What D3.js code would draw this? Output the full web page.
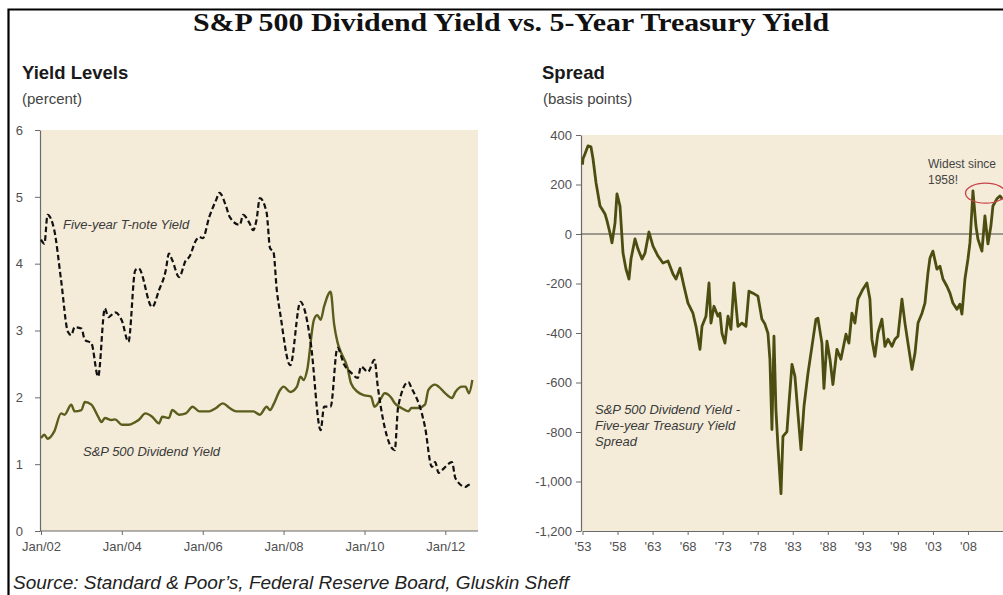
<!DOCTYPE html>
<html lang="en">
<head>
<meta charset="UTF-8">
<title>S&amp;P 500 Dividend Yield vs. 5-Year Treasury Yield</title>
<style>
    body {
        margin: 0;
        padding: 0;
        background: #ffffff;
        font-family: "Liberation Sans", Arial, sans-serif;
    }
    .tick-label {
        fill: #505050;
        font-size: 13px;
    }
    .panel-title {
        font-weight: bold;
        font-size: 18.5px;
        fill: #1a1a1a;
    }
    .panel-sub {
        font-size: 15px;
        fill: #444;
    }
    .note {
        font-style: italic;
        font-size: 13px;
        fill: #3a3a3a;
    }
</style>
</head>
<body>
<div id="chart"></div>

<script src="https://d3js.org/d3.v7.min.js"></script>
<script>
// ---- left panel: yield levels (percent) ----
const tnoteDates = ["2002-01","2002-02","2002-03","2002-05","2002-07","2002-09","2002-10","2002-11",
    "2003-01","2003-02","2003-04","2003-06","2003-08","2003-09","2003-11",
    "2004-01","2004-03","2004-05","2004-06","2004-10","2004-12",
    "2005-02","2005-03","2005-04","2005-06","2005-08","2005-09","2005-11","2005-12",
    "2006-01","2006-03","2006-05","2006-06","2006-08","2006-09","2006-12",
    "2007-01","2007-03","2007-04","2007-05","2007-06","2007-08","2007-09","2007-10","2007-11","2007-12",
    "2008-03","2008-06","2008-07","2008-09","2008-12",
    "2009-01","2009-03","2009-05","2009-07","2009-09","2009-11","2009-12",
    "2010-02","2010-04","2010-05","2010-07","2010-10","2010-11",
    "2011-02","2011-03","2011-06","2011-07","2011-09","2011-10","2011-11","2011-12",
    "2012-03","2012-04","2012-07","2012-08","2012-09"];
const tnoteYield = [4.36,4.30,4.73,4.50,3.76,2.98,2.93,3.05,
    3.03,2.86,2.81,2.31,3.33,3.20,3.27,
    3.15,2.83,3.90,3.93,3.35,3.60,
    3.90,4.15,4.05,3.80,4.05,4.10,4.35,4.40,
    4.38,4.70,4.95,5.06,4.85,4.70,4.58,
    4.73,4.60,4.50,4.65,4.98,4.76,4.23,4.18,3.60,3.26,
    2.48,3.43,3.35,2.83,1.51,
    1.86,1.86,2.74,2.49,2.37,2.29,2.46,
    2.38,2.56,2.16,1.56,1.21,1.86,
    2.23,2.14,1.77,1.56,0.96,1.03,0.87,0.91,
    1.03,0.79,0.66,0.69,0.69];

const divDates = ["2002-01","2002-02","2002-03","2002-05","2002-07","2002-08","2002-10","2002-11",
    "2003-01","2003-02","2003-04","2003-06","2003-07","2003-08","2003-10","2003-11",
    "2004-01","2004-03","2004-05","2004-06","2004-08","2004-10","2004-12",
    "2005-01","2005-03","2005-04","2005-06","2005-08","2005-10","2005-12",
    "2006-03","2006-05","2006-07","2006-09","2006-11",
    "2007-02","2007-04","2007-06","2007-08","2007-09","2007-10","2007-12",
    "2008-01","2008-03","2008-05","2008-06","2008-07","2008-08","2008-10","2008-11","2008-12",
    "2009-01","2009-03","2009-04","2009-05","2009-06","2009-08","2009-09","2009-11",
    "2010-01","2010-03","2010-04","2010-06","2010-07","2010-09","2010-10","2010-12",
    "2011-02","2011-03","2011-05","2011-07","2011-08","2011-10","2011-11",
    "2012-01","2012-03","2012-04","2012-06","2012-07","2012-08","2012-09"];
const divYield = [1.39,1.44,1.38,1.49,1.76,1.74,1.89,1.79,
    1.81,1.93,1.89,1.71,1.63,1.69,1.66,1.67,
    1.59,1.59,1.63,1.66,1.76,1.71,1.61,
    1.71,1.69,1.81,1.74,1.76,1.86,1.79,
    1.79,1.84,1.91,1.84,1.79,
    1.79,1.79,1.74,1.86,1.81,1.89,2.11,
    2.16,2.08,2.16,2.31,2.26,2.41,3.16,3.23,3.16,
    3.36,3.58,3.10,2.83,2.68,2.44,2.21,2.08,
    2.03,2.01,1.86,1.99,2.06,1.99,1.91,1.84,
    1.79,1.84,1.84,1.89,2.11,2.19,2.16,
    2.06,1.99,2.08,2.16,2.16,2.06,2.26];

const leftXTicks = ["2002-01","2004-01","2006-01","2008-01","2010-01","2012-01"];
const leftYTicks = [0, 1, 2, 3, 4, 5, 6];

// ---- right panel: spread (basis points) ----
const spreadYears = [1953.0,1953.07,1953.36,1953.78,1954.21,1954.50,1954.93,1955.50,1955.78,1956.21,1956.50,1956.92,
    1957.21,1957.64,1957.92,1958.35,1958.78,1959.21,1959.63,1959.92,1960.49,1960.92,1961.49,1961.92,
    1962.48,1963.06,1963.77,1964.48,1965.20,1965.91,1966.34,1966.91,1967.48,1968.05,1968.76,1969.19,
    1969.76,1970.05,1970.62,1971.05,1971.33,1971.76,1972.33,1972.61,1972.90,1973.33,1973.76,1974.18,
    1974.61,1975.18,1975.75,1976.32,1976.75,1977.32,1978.03,1978.60,1979.03,1979.46,1979.74,1980.03,
    1980.32,1980.60,1980.89,1981.32,1981.60,1982.17,1982.46,1982.89,1983.31,1983.74,1984.17,1984.60,
    1985.17,1985.74,1986.31,1986.59,1987.16,1987.45,1987.88,1988.31,1988.73,1989.30,1989.87,1990.59,
    1991.01,1991.44,1991.87,1992.30,1993.01,1993.58,1994.01,1994.29,1994.72,1995.15,1995.72,1996.15,
    1996.58,1997.15,1997.58,1998.01,1998.58,1999.01,1999.44,2000.01,2000.44,2000.87,2001.44,2001.86,
    2002.29,2002.58,2003.00,2003.57,2004.00,2004.43,2005.00,2005.43,2005.85,2006.42,2006.85,2007.14,
    2007.57,2008.00,2008.28,2008.57,2008.71,2009.14,2009.42,2009.99,2010.42,2010.85,2011.27,2011.56,
    2012.13,2012.56,2012.95];
const spreadBp = [280,304,324,356,352,304,207,113,101,81,53,4,
    -36,45,162,113,-77,-142,-182,-101,-20,-61,-101,-77,
    8,-49,-89,-117,-109,-162,-182,-138,-211,-279,-320,-373,
    -466,-373,-332,-198,-360,-292,-332,-320,-401,-441,-332,-385,
    -198,-373,-360,-373,-231,-239,-251,-344,-364,-401,-506,-790,
    -413,-709,-859,-1049,-818,-798,-684,-527,-575,-725,-871,-697,
    -563,-454,-344,-340,-441,-624,-433,-506,-608,-466,-506,-405,
    -441,-320,-360,-263,-223,-198,-263,-425,-494,-401,-344,-454,
    -425,-454,-425,-413,-263,-360,-441,-547,-482,-360,-320,-279,
    -158,-97,-69,-142,-130,-182,-211,-239,-279,-304,-284,-324,
    -182,-101,-36,101,174,32,-20,-69,73,-40,32,113,
    142,154,140];

const rightXTicks = [1953,1958,1963,1968,1973,1978,1983,1988,1993,1998,2003,2008];
const rightYTicks = [-1200,-1000,-800,-600,-400,-200,0,200,400];

const W = 1003, H = 595;
const bgColor = "#f4ecd9";
const olive = "#5a5d1c";
const oliveDark = "#4b4e10";

const svg = d3.select("#chart").append("svg")
    .attr("width", W)
    .attr("height", H);

svg.append("rect").attr("width", W).attr("height", H).attr("fill", "#fff");

// frame (only top and left edges are visible in the crop)
svg.append("path")
    .attr("d", `M8.5,${H} L8.5,9.5 L${W},9.5`)
    .attr("fill", "none")
    .attr("stroke", "#000")
    .attr("stroke-width", 2.2);

// main title
svg.append("text")
    .attr("x", 193)
    .attr("y", 31)
    .attr("textLength", 636)
    .attr("lengthAdjust", "spacingAndGlyphs")
    .style("font-family", "'Liberation Serif', 'Times New Roman', serif")
    .style("font-weight", "bold")
    .style("font-size", "26px")
    .attr("fill", "#111")
    .text("S&P 500 Dividend Yield vs. 5-Year Treasury Yield");

// ===== left panel =====
const parseMonth = d3.timeParse("%Y-%m");
const xL = d3.scaleTime()
    .domain([parseMonth("2002-01"), new Date(2012, 9, 22)])
    .range([41, 478]);
const yL = d3.scaleLinear().domain([0, 6]).range([531, 130]);

svg.append("rect")
    .attr("x", 41).attr("y", yL(6))
    .attr("width", 478 - 41).attr("height", yL(0) - yL(6))
    .attr("fill", bgColor);

const gLx = svg.append("g").attr("transform", `translate(0,${yL(0)})`)
    .call(d3.axisBottom(xL)
        .tickValues(leftXTicks.map(parseMonth))
        .tickFormat(d3.timeFormat("Jan/%y"))
        .tickSize(4).tickSizeOuter(0));
const gLy = svg.append("g").attr("transform", `translate(40,0)`)
    .call(d3.axisLeft(yL).tickValues(leftYTicks).tickFormat(d3.format("d"))
        .tickSize(5).tickSizeOuter(0).tickPadding(12));

[gLx, gLy].forEach(g => {
    g.select(".domain").attr("stroke", "#6a6a6a").attr("stroke-width", 1.2);
    g.selectAll(".tick line").attr("stroke", "#6a6a6a");
    g.selectAll(".tick text").attr("class", "tick-label").attr("fill", null)
        .style("font-family", "'Liberation Sans', Arial, sans-serif");
});
gLx.selectAll(".tick text").attr("dy", "1.0em");
gLx.select(".domain").attr("d", `M40,0H478`);

const lineL = d3.line()
    .x(d => xL(d[0]))
    .y(d => yL(d[1]))
    .curve(d3.curveMonotoneX);

svg.append("path")
    .datum(divDates.map((d, i) => [parseMonth(d), divYield[i]]))
    .attr("d", lineL)
    .attr("fill", "none")
    .attr("stroke", olive)
    .attr("stroke-width", 2.4);

svg.append("path")
    .datum(tnoteDates.map((d, i) => [parseMonth(d), tnoteYield[i]]))
    .attr("d", lineL)
    .attr("fill", "none")
    .attr("stroke", "#111")
    .attr("stroke-width", 2.2)
    .attr("stroke-dasharray", "5.5,3");

svg.append("text").attr("class", "note")
    .attr("x", 63).attr("y", 229)
    .text("Five-year T-note Yield");
svg.append("text").attr("class", "note")
    .attr("x", 83).attr("y", 456)
    .text("S&P 500 Dividend Yield");

svg.append("text").attr("class", "panel-title").attr("x", 22).attr("y", 79).text("Yield Levels");
svg.append("text").attr("class", "panel-sub").attr("x", 22).attr("y", 104).text("(percent)");

// ===== right panel =====
const xR = d3.scaleLinear().domain([1953, 2013.07]).range([582.5, 1003.5]);
const yR = d3.scaleLinear().domain([-1200, 400]).range([531, 135]);

svg.append("rect")
    .attr("x", 582).attr("y", yR(400))
    .attr("width", W - 582).attr("height", yR(-1200) - yR(400))
    .attr("fill", bgColor);

const gRx = svg.append("g").attr("transform", `translate(0,${yR(-1200)})`)
    .call(d3.axisBottom(xR)
        .tickValues(rightXTicks)
        .tickFormat(d => "'" + String(d).slice(2))
        .tickSize(4).tickSizeOuter(0));
const gRy = svg.append("g").attr("transform", `translate(581,0)`)
    .call(d3.axisLeft(yR).tickValues(rightYTicks).tickFormat(d3.format(",d"))
        .tickSize(5).tickSizeOuter(0).tickPadding(4));

[gRx, gRy].forEach(g => {
    g.select(".domain").attr("stroke", "#6a6a6a").attr("stroke-width", 1.2);
    g.selectAll(".tick line").attr("stroke", "#6a6a6a");
    g.selectAll(".tick text").attr("class", "tick-label").attr("fill", null)
        .style("font-family", "'Liberation Sans', Arial, sans-serif");
});
gRx.selectAll(".tick text").attr("dy", "1.0em");
gRy.selectAll(".tick text").text(d => d3.format(",d")(d).replace("−", "-"));

// zero line
svg.append("line")
    .attr("x1", 581).attr("x2", W)
    .attr("y1", yR(0)).attr("y2", yR(0))
    .attr("stroke", "#444").attr("stroke-width", 1.2);

const lineR = d3.line()
    .x((d, i) => xR(spreadYears[i]))
    .y(d => yR(d));

svg.append("path")
    .datum(spreadBp)
    .attr("d", lineR)
    .attr("fill", "none")
    .attr("stroke", oliveDark)
    .attr("stroke-width", 2.8)
    .attr("stroke-linejoin", "round");

svg.append("text").attr("class", "panel-title").attr("x", 542).attr("y", 79).text("Spread");
svg.append("text").attr("class", "panel-sub").attr("x", 543).attr("y", 104).text("(basis points)");

const spreadNote = ["S&P 500 Dividend Yield -", "Five-year Treasury Yield", "Spread"];
svg.append("text").attr("class", "note")
    .selectAll("tspan").data(spreadNote).join("tspan")
    .attr("x", 595)
    .attr("y", (d, i) => 414 + i * 16)
    .text(d => d);

// highlight on the recent widening
svg.append("ellipse")
    .attr("cx", xR(2010.5)).attr("cy", yR(165))
    .attr("rx", 20).attr("ry", 10)
    .attr("fill", "none")
    .attr("stroke", "#c8434a")
    .attr("stroke-width", 1.3);

svg.append("text")
    .style("font-size", "12px").attr("fill", "#444")
    .selectAll("tspan").data(["Widest since", "1958!"]).join("tspan")
    .attr("x", 928)
    .attr("y", (d, i) => 168 + i * 16)
    .text(d => d);

// source line
svg.append("text")
    .attr("x", 13).attr("y", 589)
    .style("font-style", "italic")
    .style("font-size", "19px")
    .attr("fill", "#222")
    .text("Source: Standard & Poor\u2019s, Federal Reserve Board, Gluskin Sheff");
</script>
</body>
</html>
